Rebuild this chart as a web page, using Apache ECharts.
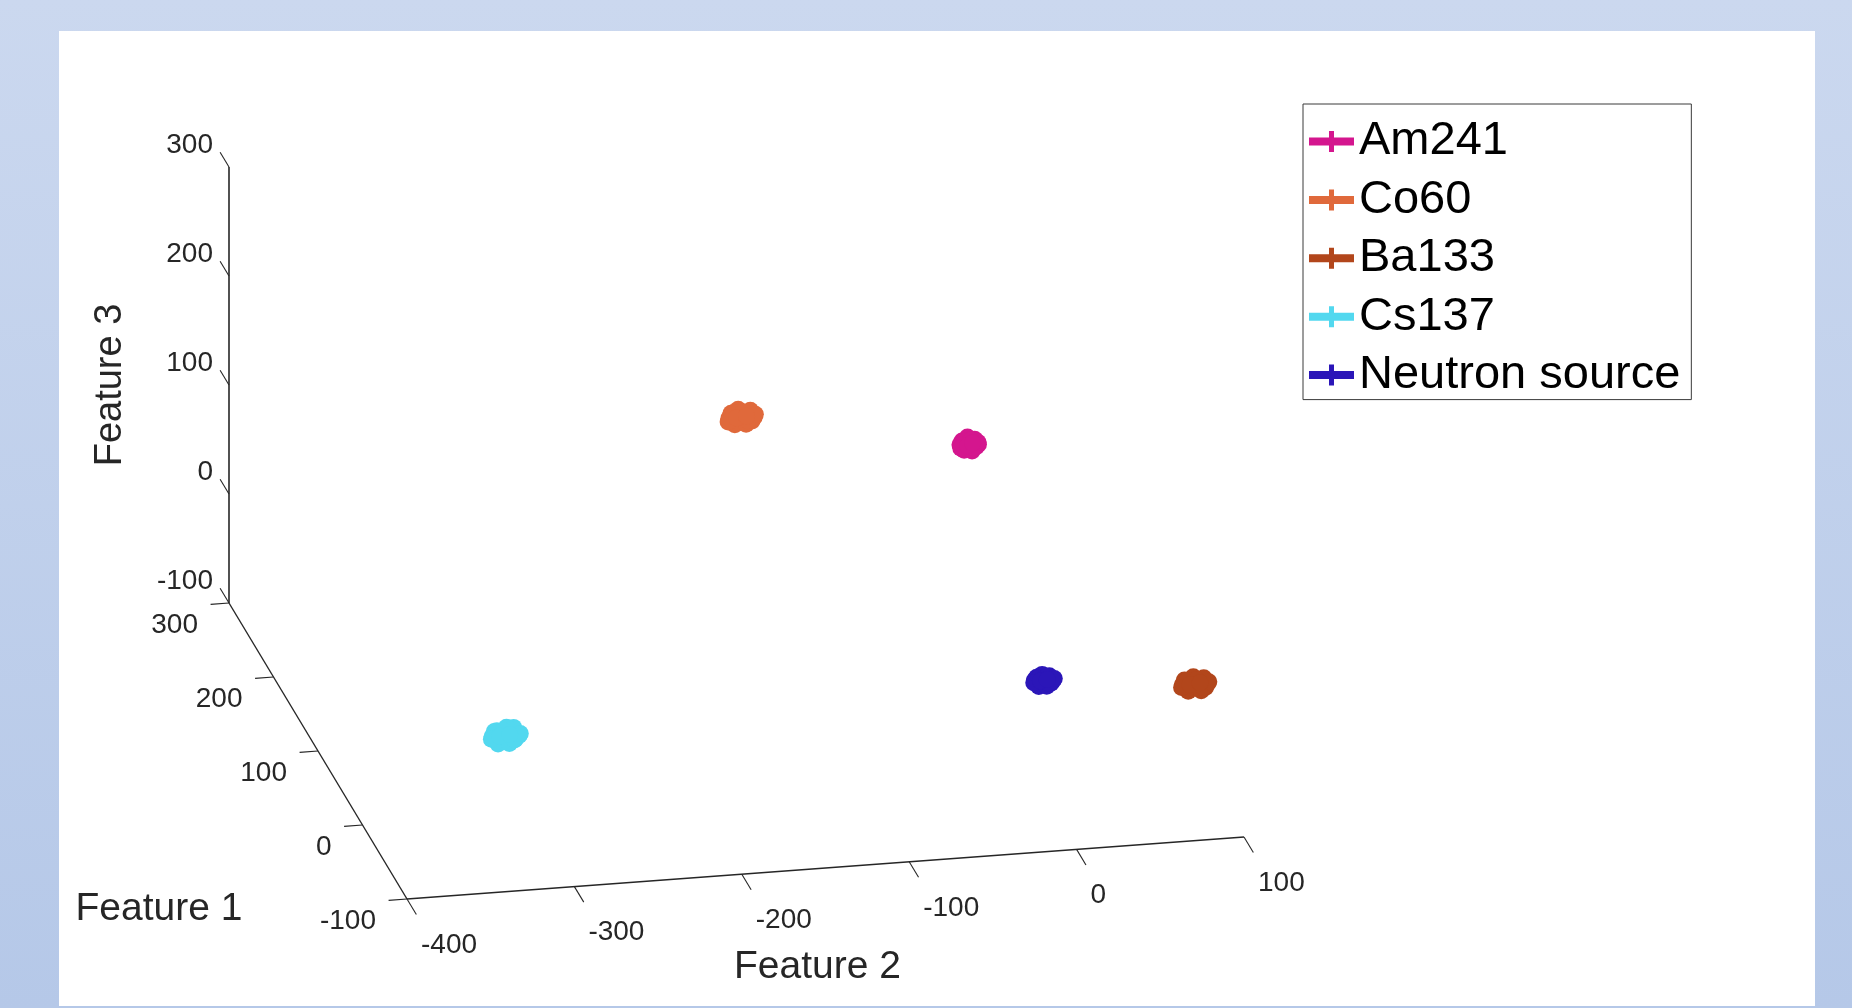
<!DOCTYPE html>
<html>
<head>
<meta charset="utf-8">
<script src="https://cdn.jsdelivr.net/npm/echarts@6/dist/echarts.min.js"></script>
<style>
html,body{margin:0;padding:0;background:#fff;}
#chart{width:1852px;height:1008px;}
</style>
</head>
<body>
<div id="chart"></div>
<script>
// ================= DATA =================
const seriesNames = ['Am241', 'Co60', 'Ba133', 'Cs137', 'Neutron source'];

// points as [Feature 1, Feature 2, Feature 3]
const am241 = [
  [100,-11,137],[101,-15,140],[99,-7,135],[100,-14,132],[99,-8,142],[102,-16,136],[98,-6,138],
  [100,-12,144],[101,-9,130],[99,-14,141],[101,-8,133],[100,-16,134],[99,-6,139],[100,-10,141],
  [100,-12,136],[100,-9,138]
];
const co60 = [
  [100,-147,177],[101,-153,181],[99,-141,174],[100,-151,171],[99,-142,184],[102,-154,176],[98,-140,178],
  [100,-149,185],[101,-144,170],[99,-152,183],[101,-143,173],[100,-155,174],[99,-139,180],[100,-146,182],
  [100,-150,177],[100,-144,178]
];
const ba133 = [
  [-50,84,8],[-49,78,12],[-51,90,5],[-50,80,2],[-51,89,14],[-48,77,7],[-52,91,9],
  [-50,83,15],[-49,88,1],[-51,79,13],[-49,89,4],[-50,76,6],[-51,92,10],[-50,85,12],
  [-50,81,8],[-50,87,9]
];
const cs137 = [
  [0,-315,-28],[1,-321,-24],[-1,-309,-31],[0,-319,-35],[-1,-310,-20],[2,-322,-29],[-2,-307,-27],
  [0,-314,-20],[1,-312,-36],[-1,-320,-22],[1,-309,-33],[0,-323,-30],[-1,-306,-26],[0,-316,-23],
  [0,-318,-28],[0,-312,-27]
];
const neutron = [
  [0,7,-14],[1,3,-11],[-1,11,-16],[0,4,-19],[-1,10,-9],[2,2,-14],[-2,12,-13],
  [0,6,-8],[1,9,-20],[-1,4,-10],[1,10,-17],[0,1,-15],[-1,13,-12],[0,8,-11],
  [0,5,-14],[0,9,-13]
];

const feature1Ticks = [-100, 0, 100, 200, 300];
const feature2Ticks = [-400, -300, -200, -100, 0, 100];
const feature3Ticks = [-100, 0, 100, 200, 300];
const axisTitles = ['Feature 1', 'Feature 2', 'Feature 3'];

// ================= VIEW / STYLE =================
const seriesColors = ['#d4168e', '#e0693b', '#b2461b', '#52d8ef', '#2b16b8'];
const FONT = '"Liberation Sans", Arial, Helvetica, sans-serif';
const AXIS_COLOR = '#262626';
const F1R = [feature1Ticks[0], feature1Ticks[feature1Ticks.length - 1]];
const F2R = [feature2Ticks[0], feature2Ticks[feature2Ticks.length - 1]];
const F3R = [feature3Ticks[0], feature3Ticks[feature3Ticks.length - 1]];
// orthographic view: screen position of corner (F1max, F2min, F3min) and unit vectors
const VIEW = { ox: 229, oy: 603, e1: [-0.445, -0.74], e2: [1.674, -0.124], e3: [0, -1.09] };
function proj(p) {
  const a = p[0] - F1R[1], b = p[1] - F2R[0], c = p[2] - F3R[0];
  return [
    VIEW.ox + a * VIEW.e1[0] + b * VIEW.e2[0] + c * VIEW.e3[0],
    VIEW.oy + a * VIEW.e1[1] + b * VIEW.e2[1] + c * VIEW.e3[1]
  ];
}

// axis segments
const segs = [];
function seg(p, q, w) { const a = proj(p), b = proj(q); segs.push([a[0], a[1], b[0], b[1], w]); }
seg([F1R[1], F2R[0], F3R[0]], [F1R[1], F2R[0], F3R[1]], 1.6);   // Feature 3 axis
seg([F1R[0], F2R[0], F3R[0]], [F1R[1], F2R[0], F3R[0]], 1.4);   // Feature 1 axis
seg([F1R[0], F2R[0], F3R[0]], [F1R[0], F2R[1], F3R[0]], 1.4);   // Feature 2 axis
feature3Ticks.forEach(v => seg([F1R[1], F2R[0], v], [F1R[1] + 20, F2R[0], v], 1.1));
feature1Ticks.forEach(v => seg([v, F2R[0], F3R[0]], [v, F2R[0] - 11, F3R[0]], 1.1));
feature2Ticks.forEach(v => seg([F1R[0], v, F3R[0]], [F1R[0] - 21, v, F3R[0]], 1.1));

// labels
const labels = [];
function lab(p, dx, dy, text, align, size, rot) {
  const a = proj(p); labels.push({ value: [a[0] + dx, a[1] + dy], text, align, size, rot: rot || 0 });
}
feature3Ticks.forEach(v => lab([F1R[1], F2R[0], v], -16, -22, String(v), 'right', 28));
feature1Ticks.forEach(v => lab([v, F2R[0], F3R[0]], -31, 22, String(v), 'right', 28));
feature2Ticks.forEach(v => lab([F1R[0], v, F3R[0]], 14, 46, String(v), 'left', 28));
lab([F1R[0] + (F1R[1] - F1R[0]) / 2, F2R[0], F3R[0]], -159, 158, axisTitles[0], 'center', 39);
lab([F1R[0], F2R[0] + (F2R[1] - F2R[0]) / 2, F3R[0]], -8, 99, axisTitles[1], 'center', 39);
lab([F1R[1], F2R[0], F3R[0] + (F3R[1] - F3R[0]) / 2], -118, 0, axisTitles[2], 'center', 38, Math.PI / 2);

const pointSets = [am241, co60, ba133, cs137, neutron];
const legendIcon = 'path://M0,6.5L45,6.5L45,14.5L0,14.5Z M20,0L25,0L25,21L20,21Z';

const chart = echarts.init(document.getElementById('chart'), null, { renderer: 'canvas' });
chart.setOption({
  animation: false,
  backgroundColor: {
    type: 'linear', x: 0, y: 0, x2: 0, y2: 1,
    colorStops: [{ offset: 0, color: '#cbd8ef' }, { offset: 1, color: '#b5c8e8' }]
  },
  graphic: [{
    type: 'rect', z: -10, silent: true,
    shape: { x: 59, y: 31, width: 1756, height: 975 },
    style: { fill: '#ffffff' }
  }],
  grid: { left: 0, right: 0, top: 0, bottom: 0 },
  xAxis: { type: 'value', min: 0, max: 1852, show: false },
  yAxis: { type: 'value', min: 0, max: 1008, inverse: true, show: false },
  legend: {
    orient: 'vertical', left: 1303, top: 104,
    padding: [14, 11, 1, 6], itemGap: 11.4, itemWidth: 45, itemHeight: 21,
    backgroundColor: '#ffffff', borderColor: '#3a3a3a', borderWidth: 1, borderRadius: 0,
    selectedMode: false,
    textStyle: { fontSize: 47, fontFamily: FONT, color: '#000000', lineHeight: 46 },
    data: seriesNames.map(n => ({ name: n, icon: legendIcon }))
  },
  series: [
    {
      type: 'custom', name: 'axes', silent: true, z: 1,
      data: segs,
      renderItem: (params, api) => {
        const p1 = api.coord([api.value(0), api.value(1)]);
        const p2 = api.coord([api.value(2), api.value(3)]);
        return { type: 'line', shape: { x1: p1[0], y1: p1[1], x2: p2[0], y2: p2[1] },
          style: { stroke: AXIS_COLOR, lineWidth: api.value(4) } };
      }
    },
    {
      type: 'custom', name: 'labels', silent: true, z: 1,
      data: labels.map(l => l.value),
      renderItem: (params, api) => {
        const l = labels[params.dataIndex];
        const p = api.coord([api.value(0), api.value(1)]);
        return { type: 'text', x: p[0], y: p[1], rotation: l.rot,
          style: { text: l.text, fontSize: l.size, fontFamily: FONT, fill: AXIS_COLOR,
            align: l.align, verticalAlign: 'middle' } };
      }
    }
  ].concat(seriesNames.map((n, i) => ({
    type: 'scatter', name: n, z: 3,
    symbol: 'circle', symbolSize: 17,
    itemStyle: { color: seriesColors[i], opacity: 1 },
    data: pointSets[i].map(proj)
  })))
});
</script>
</body>
</html>
